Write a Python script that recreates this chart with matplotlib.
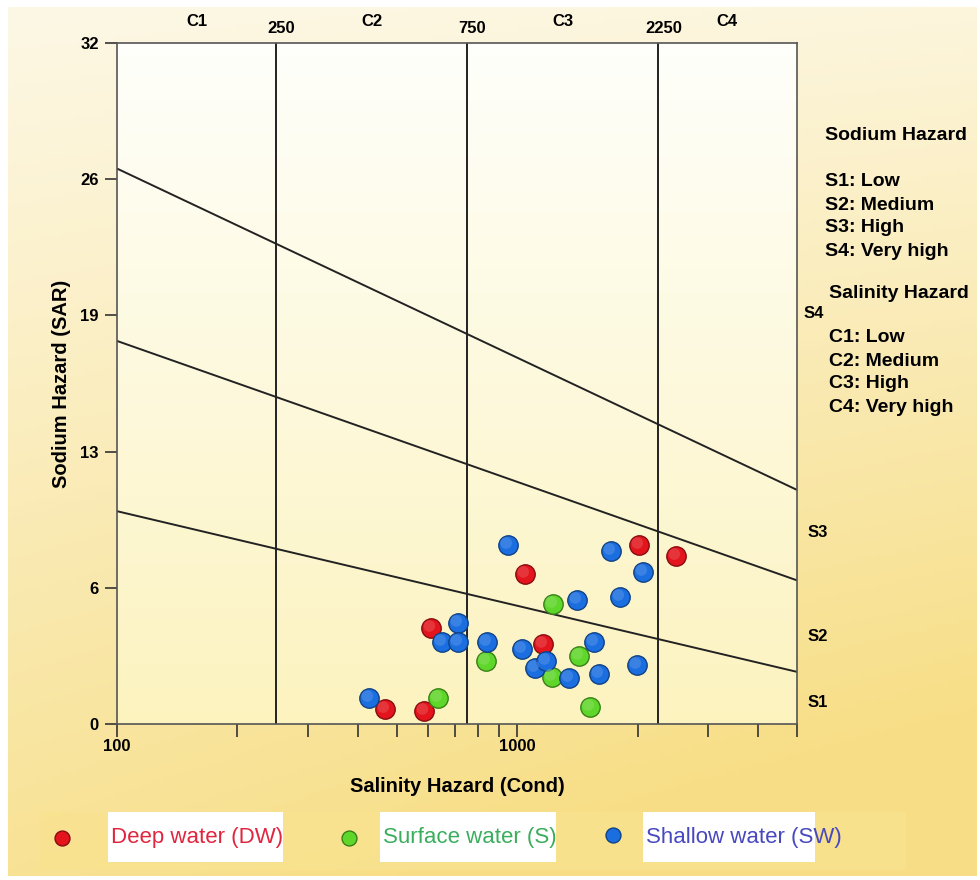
import numpy as np
import matplotlib
matplotlib.use("Agg")
import matplotlib.pyplot as plt
from matplotlib.patches import Rectangle
from matplotlib.transforms import blended_transform_factory, ScaledTranslation
from matplotlib.colors import to_rgb

# ---------------- data ----------------
deep_cond = [468, 586, 610, 1047, 1161, 2018, 2498]
deep_sar = [0.70, 0.61, 4.51, 7.05, 3.76, 8.41, 7.89]

surf_cond = [635, 836, 1230, 1223, 1429, 1522]
surf_sar = [1.22, 2.96, 5.64, 2.21, 3.20, 0.80]

shal_cond = [427, 712, 649, 712, 841, 949, 1029, 1109, 1182, 1349,
             1413, 1557, 1603, 1718, 1809, 2065, 1995]
shal_sar = [1.22, 4.75, 3.85, 3.85, 3.85, 8.41, 3.52, 2.63, 2.96, 2.16,
            5.83, 3.85, 2.35, 8.13, 5.97, 7.14, 2.77]

# salinity class boundaries and labels
c_bounds = [250, 750, 2250]
c_bound_labels = ["250", "750", "2250"]
c_class_pos = [158, 434, 1303, 3350]
c_class_labels = ["C1", "C2", "C3", "C4"]

# sodium hazard boundary lines (SAR at EC=100 and EC=5000)
line_ec = [100, 5000]
line_left = [26.1, 18.0, 10.0]
line_right = [11.0, 6.75, 2.45]

s_label_pos = [0.99, 4.09, 9.02, 19.27]
s_labels = ["S1", "S2", "S3", "S4"]

yticks = [0, 6.4, 12.8, 19.2, 25.6, 32]
ytick_labels = ["0", "6", "13", "19", "26", "32"]
xticks = [100, 1000]
xtick_labels = ["100", "1000"]

sodium_text = ["S1: Low", "S2: Medium", "S3: High", "S4: Very high"]
salinity_text = ["C1: Low", "C2: Medium", "C3: High", "C4: Very high"]

legend_names = ["Deep water (DW)", "Surface water (S)", "Shallow water (SW)"]
marker_colors = ["#e3141c", "#5fd62a", "#1b6ee0"]
legend_text_colors = ["#e0263e", "#3aae5c", "#4848c0"]

NARROW = ["Liberation Sans Narrow", "Liberation Sans", "DejaVu Sans"]
ARIAL = ["Liberation Sans", "DejaVu Sans"]

W, H = 980, 880
fig = plt.figure(figsize=(W / 100, H / 100), dpi=100)
fig.patch.set_facecolor("white")

# figure background gradient
bg = fig.add_axes([0.008, 0.004, 0.988, 0.988], zorder=-10)
yy, xx = np.mgrid[0:1:200j, 0:1:200j]
top = np.array(to_rgb("#fdf8e6"))
bot = np.array(to_rgb("#f7de86"))
t = np.clip(0.85 * yy + 0.25 * xx * yy + 0.1 * xx, 0, 1)[..., None]
img = top * (1 - t) + bot * t
bg.imshow(img, aspect="auto", extent=[0, 1, 0, 1], origin="upper")
bg.set_axis_off()

# main axes
ax = fig.add_axes([117 / W, 1 - 724 / H, 680 / W, 681 / H])
ax.set_xscale("log")

# plot area gradient
grad = np.linspace(0, 1, 256)[:, None]
ptop = np.array(to_rgb("#fffffb"))
pbot = np.array(to_rgb("#fcf3bf"))
pimg = ptop * (1 - grad[..., None]) + pbot * grad[..., None]
pimg = np.repeat(pimg, 2, axis=1)
ax.imshow(pimg, aspect="auto", extent=[100, 5000, 0, 32], origin="upper",
          zorder=0)
ax.set_xlim(100, 5000)
ax.set_ylim(0, 32)

for c in c_bounds:
    ax.axvline(c, color="#222222", lw=1.4, zorder=2)
for yl, yr in zip(line_left, line_right):
    ax.plot(line_ec, [yl, yr], color="#222222", lw=1.4, zorder=2)

# scatter points (sphere look)
off = ScaledTranslation(-2 / 100, 2 / 100, fig.dpi_scale_trans)
for xs, ys, col in [(deep_cond, deep_sar, marker_colors[0]),
                    (surf_cond, surf_sar, marker_colors[1]),
                    (shal_cond, shal_sar, marker_colors[2])]:
    base = np.array(to_rgb(col))
    dark = base * 0.6
    light = base + (1 - base) * 0.25
    ax.scatter(xs, ys, s=195, color=col, edgecolors=[dark], linewidths=1.0,
               zorder=4)
    ax.scatter(xs, ys, s=70, color=[light], edgecolors="none", alpha=0.55,
               zorder=5, transform=ax.transData + off)

# ticks
ax.set_yticks(yticks)
ax.set_yticklabels(ytick_labels, family=NARROW, fontweight="bold", fontsize=12)
ax.set_xticks(xticks)
ax.set_xticklabels(xtick_labels, family=NARROW, fontweight="bold", fontsize=12)
ax.tick_params(axis="both", which="both", direction="out", length=9,
               width=1.2, color="#333333", pad=4)
ax.tick_params(axis="x", which="minor", labelbottom=False)
ax.tick_params(axis="x", pad=2)
for sp in ax.spines.values():
    sp.set_color("#555555")
    sp.set_linewidth(1.2)

ax.set_xlabel("Salinity Hazard (Cond)", family=NARROW, fontweight="bold",
              fontsize=14.5, labelpad=16)
ax.set_ylabel("Sodium Hazard (SAR)", family=NARROW, fontweight="bold",
              fontsize=14.5, labelpad=7)

# top labels
tr = blended_transform_factory(ax.transData, ax.transAxes)
for c, lab in zip(c_bounds, c_bound_labels):
    ax.text(c * 1.03, 1.021, lab, transform=tr, ha="center", va="center",
            family=NARROW, fontweight="bold", fontsize=12)
for c, lab in zip(c_class_pos, c_class_labels):
    ax.text(c, 1.032, lab, transform=tr, ha="center", va="center",
            family=NARROW, fontweight="bold", fontsize=12)

# S labels on right
tr2 = blended_transform_factory(ax.transAxes, ax.transData)
for y, lab in zip(s_label_pos, s_labels):
    xpos = 1.009 if lab == "S4" else 1.016
    ax.text(xpos, y, lab, transform=tr2, ha="left", va="center",
            family=NARROW, fontweight="bold", fontsize=12)

# right text block
def ft(xpx, ypx, s, **kw):
    fig.text(xpx / W, 1 - ypx / H, s, ha="left", va="center",
             family=ARIAL, fontweight="bold", fontsize=14, **kw)

ft(825, 136, "Sodium Hazard")
for i, s in enumerate(sodium_text):
    ft(825, 182 + 23 * i, s)
ft(829, 293, "Salinity Hazard")
for i, s in enumerate(salinity_text):
    ft(829, 338 + 23 * i, s)

# bottom legend strip
lg = fig.add_axes([0, 0, 1, 1], zorder=5)
lg.set_xlim(0, W)
lg.set_ylim(H, 0)
lg.set_axis_off()
lg.add_patch(Rectangle((40, 812), 866, 58, color="#f9e390", alpha=0.8, lw=0))
mk_x = [62, 349, 613]
box_x = [108, 380, 643]
box_w = [175, 176, 172]
for i in range(3):
    lg.add_patch(Rectangle((box_x[i], 812), box_w[i], 50, color="white", lw=0))
    lg.scatter([mk_x[i]], [838 if i < 2 else 835], s=115,
               color=marker_colors[i],
               edgecolors=[np.array(to_rgb(marker_colors[i])) * 0.6], lw=1.0)
    lg.text(box_x[i] + 3, 838, legend_names[i], ha="left", va="center",
            color=legend_text_colors[i], family=NARROW, fontsize=16)

fig.savefig("out.png", dpi=100)
